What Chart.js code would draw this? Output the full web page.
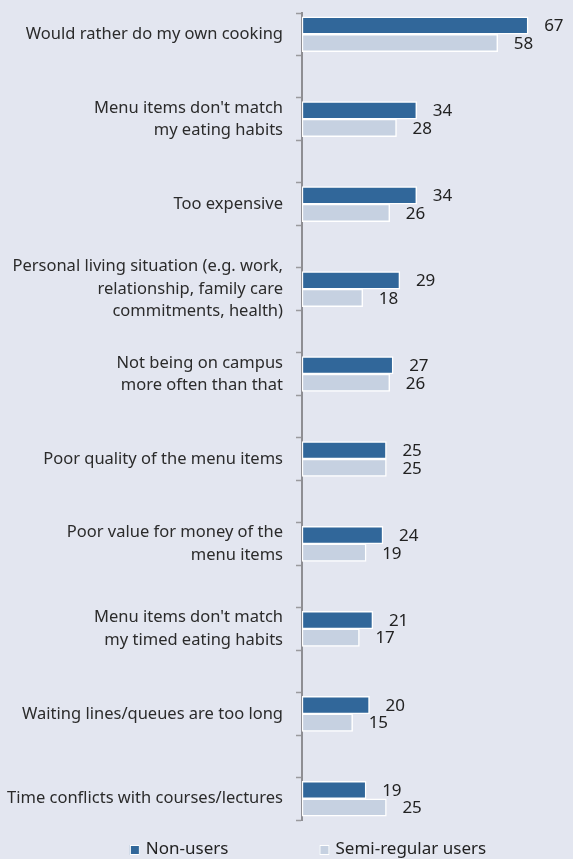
<!DOCTYPE html>
<html>
<head>
<meta charset="utf-8">
<script src="https://cdn.jsdelivr.net/npm/chart.js@4.4.1/dist/chart.umd.min.js"></script>
<style>
    html, body { margin: 0; padding: 0; background: #e3e6f0; }
    #caixaGrafico { position: relative; width: 573px; height: 859px; }
</style>
</head>
<body>
<div id="caixaGrafico"><canvas id="graficoMotivos"></canvas></div>
<script>
// motivos (linhas quebradas como no rótulo do eixo)
let categorias = [
    "Would rather do my own cooking",
    ["Menu items don't match", "my eating habits"],
    "Too expensive",
    ["Personal living situation (e.g. work,", "relationship, family care", "commitments, health)"],
    ["Not being on campus", "more often than that"],
    "Poor quality of the menu items",
    ["Poor value for money of the", "menu items"],
    ["Menu items don't match", "my timed eating habits"],
    "Waiting lines/queues are too long",
    "Time conflicts with courses/lectures"
];
let naoUsuarios = [67, 34, 34, 29, 27, 25, 24, 21, 20, 19];
let semiRegulares = [58, 28, 26, 18, 26, 25, 19, 17, 15, 25];
let nomesSeries = ["Non-users", "Semi-regular users"];
let coresSeries = ["#31679a", "#c6d1e1"];

let fonte = "'Noto Sans', sans-serif";

const rotulosValores = {
    id: 'rotulosValores',
    afterDatasetsDraw(chart) {
        let ctx = chart.ctx;
        ctx.save();
        ctx.font = "17px " + fonte;
        ctx.fillStyle = '#222222';
        ctx.textAlign = 'left';
        ctx.textBaseline = 'middle';
        chart.data.datasets.forEach(function (dataset, i) {
            chart.getDatasetMeta(i).data.forEach(function (barra, j) {
                ctx.fillText(dataset.data[j].x, barra.x + 16, barra.y + 1);
            });
        });
        ctx.restore();
    }
};

const legendaInferior = {
    id: 'legendaInferior',
    afterDraw(chart) {
        let ctx = chart.ctx;
        let series = chart.data.datasets;
        let caixa = 10, espaco = 6, intervalo = 91;
        ctx.save();
        ctx.font = "17px " + fonte;
        let larguras = series.map(s => ctx.measureText(s.label).width);
        let total = series.length * (caixa + espaco) + larguras.reduce((a, b) => a + b, 0) + intervalo * (series.length - 1);
        let x = 308 - total / 2;
        let y = chart.height - 10;
        ctx.textBaseline = 'middle';
        series.forEach(function (s, i) {
            ctx.fillStyle = s.backgroundColor;
            ctx.fillRect(x, y - caixa / 2 + 1, caixa, caixa);
            ctx.strokeStyle = '#ffffff';
            ctx.lineWidth = 1;
            ctx.strokeRect(x + 0.5, y - caixa / 2 + 1.5, caixa - 1, caixa - 1);
            ctx.fillStyle = '#222222';
            ctx.fillText(s.label, x + caixa + espaco, y);
            x += caixa + espaco + larguras[i] + intervalo;
        });
        ctx.restore();
    }
};

function gerarSerie(indice, valores) {
    return {
        label: nomesSeries[indice],
        data: valores.map((v, i) => ({x: v, y: i})),
        backgroundColor: coresSeries[indice],
        borderColor: '#ffffff',
        borderWidth: 1.5,
        borderSkipped: false,
        barThickness: 17.5
    };
}

function ehCentro(contexto) {
    return contexto.tick !== undefined && Number.isInteger(contexto.tick.value);
}

function gerarGraficoMotivos() {
    let graficoElement = document.getElementById("graficoMotivos").getContext('2d');
    new Chart(graficoElement, {
        type: 'bar',
        data: {
            datasets: [gerarSerie(0, naoUsuarios), gerarSerie(1, semiRegulares)]
        },
        options: {
            indexAxis: 'y',
            animation: false,
            responsive: true,
            maintainAspectRatio: false,
            layout: {padding: {top: 13, bottom: 39, left: 0, right: 1}},
            plugins: {
                legend: {display: false},
                tooltip: {enabled: false}
            },
            scales: {
                x: {display: false, min: 0, max: 80},
                y: {
                    type: 'linear',
                    reverse: true,
                    offset: false,
                    bounds: 'data',
                    min: -0.25,
                    max: 9.25,
                    afterBuildTicks: function (escala) {
                        // marcas acima e abaixo de cada par de barras, rótulo no centro
                        let ticks = [];
                        categorias.forEach(function (c, i) {
                            ticks.push({value: i - 0.25}, {value: i}, {value: i + 0.25});
                        });
                        escala.ticks = ticks;
                    },
                    afterFit: function (escala) {
                        escala.width = 302;
                        escala.paddingTop = 0;
                        escala.paddingBottom = 0;
                    },
                    ticks: {
                        autoSkip: false,
                        padding: 13,
                        color: '#2b2b2b',
                        font: {family: fonte, size: 16.5, lineHeight: 1.36},
                        callback: function (valor) {
                            return Number.isInteger(valor) ? categorias[valor] : '';
                        }
                    },
                    grid: {
                        offset: false,
                        drawOnChartArea: false,
                        tickLength: 6,
                        tickWidth: 1.5,
                        tickColor: function (contexto) {
                            return ehCentro(contexto) ? 'rgba(0,0,0,0)' : '#9a9a9e';
                        }
                    },
                    border: {color: '#8e8e93', width: 2}
                }
            }
        },
        plugins: [rotulosValores, legendaInferior]
    });
}

window.onload = function () {
    gerarGraficoMotivos();
};
</script>
</body>
</html>
